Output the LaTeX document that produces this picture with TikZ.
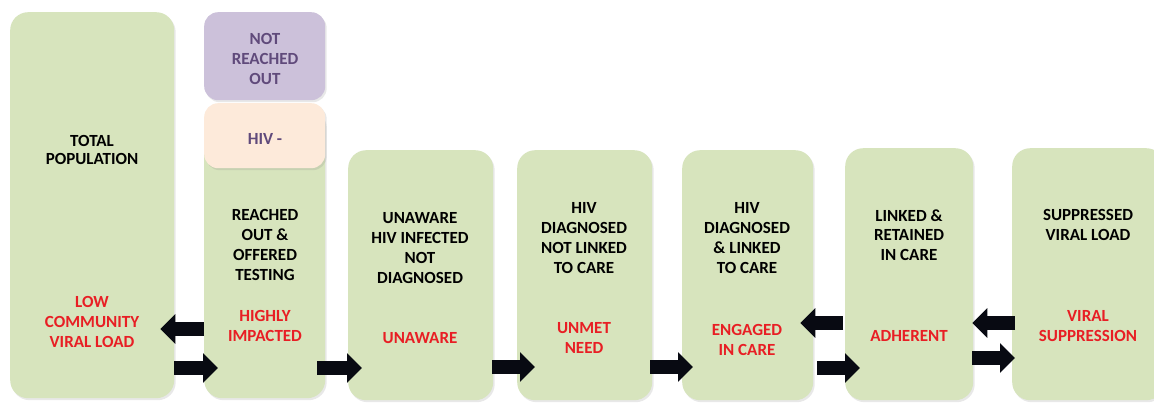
\documentclass[tikz,border=0pt]{standalone}
\usepackage{fontspec}
\setmainfont{Carlito}
\usetikzlibrary{calc,shadows,arrows.meta}
\definecolor{boxgreen}{RGB}{215,228,189}
\definecolor{boxpurple}{RGB}{204,193,218}
\definecolor{boxpeach}{RGB}{253,234,218}
\definecolor{txtpurple}{RGB}{96,74,123}
\definecolor{txtred}{RGB}{232,30,36}
\definecolor{arrowblack}{RGB}{8,10,18}
\begin{document}
\begin{tikzpicture}[x=1pt,y=-1pt,
  stage/.style={draw=none, fill=boxgreen, rounded corners=18pt, inner sep=0, anchor=north west,
    drop shadow={opacity=0.18, shadow xshift=1.5pt, shadow yshift=-2pt}},
  lab/.style={align=center, font=\bfseries\fontsize{17}{19.8}\selectfont, text=black, inner sep=0},
  redlab/.style={lab, text=txtred},
  purplab/.style={lab, text=txtpurple},
  fwd/.style={line width=14pt, arrowblack, -{Triangle[length=15pt,width=29pt]}}
]
\useasboundingbox (0,0) rectangle (1154,402);
\fill[white] (0,0) rectangle (1154,402);

% boxes
\node[stage, minimum width=164pt, minimum height=386pt] (b1) at (10,12) {};
\node[stage, minimum width=121pt, minimum height=290pt] (b2) at (204,108) {};
\node[stage, fill=boxpurple, rounded corners=14pt, minimum width=121pt, minimum height=88pt] (p) at (204,12) {};
\node[stage, fill=boxpeach, rounded corners=14pt, minimum width=121pt, minimum height=65pt] (h) at (204,103) {};
\node[stage, minimum width=145pt, minimum height=250pt] (b3) at (348,150) {};
\node[stage, minimum width=135pt, minimum height=250pt] (b4) at (517,150) {};
\node[stage, minimum width=131pt, minimum height=250pt] (b5) at (682,150) {};
\node[stage, minimum width=128pt, minimum height=252pt] (b6) at (845,148) {};
\node[stage, minimum width=152pt, minimum height=252pt] (b7) at (1012,148) {};

% texts
\node[lab, font=\bfseries\fontsize{17}{18.5}\selectfont] (t1) at (92,150) {TOTAL\\POPULATION};
\node[redlab] (r1) at (92,322) {LOW\\COMMUNITY\\VIRAL LOAD};
\node[purplab] (tp) at (265,59) {NOT\\REACHED\\OUT};
\node[purplab] (th) at (265,139) {HIV -};
\node[lab] (t2) at (265,245) {REACHED\\OUT \&\\OFFERED\\TESTING};
\node[redlab] (r2) at (265,326) {HIGHLY\\IMPACTED};
\node[lab] (t3) at (420,248) {UNAWARE\\HIV INFECTED\\NOT\\DIAGNOSED};
\node[redlab] (r3) at (420,338) {UNAWARE};
\node[lab] (t4) at (584,238) {HIV\\DIAGNOSED\\NOT LINKED\\TO CARE};
\node[redlab] (r4) at (584,338) {UNMET\\NEED};
\node[lab] (t5) at (747,238) {HIV\\DIAGNOSED\\\& LINKED\\TO CARE};
\node[redlab] (r5) at (747,340) {ENGAGED\\IN CARE};
\node[lab] (t6) at (909,235) {LINKED \&\\RETAINED\\IN CARE};
\node[redlab] (r6) at (909,336) {ADHERENT};
\node[lab] (t7) at (1088,225) {SUPPRESSED\\VIRAL LOAD};
\node[redlab] (r7) at (1088,326) {VIRAL\\SUPPRESSION};

% arrows
\draw[fwd] (b2.west |- 0,329) -- ($(b1.east |- 0,329)+(-14,0)$);
\draw[fwd] (b1.east |- 0,368) -- ($(b2.west |- 0,368)+(14,0)$);
\draw[fwd] ($(b2.east |- 0,368)+(-8,0)$) -- ($(b3.west |- 0,368)+(14,0)$);
\draw[fwd] ($(b3.east |- 0,367)+(-1,0)$) -- ($(b4.west |- 0,367)+(18,0)$);
\draw[fwd] ($(b4.east |- 0,367)+(-2,0)$) -- ($(b5.west |- 0,367)+(11,0)$);
\draw[fwd] ($(b5.east |- 0,368)+(4,0)$) -- ($(b6.west |- 0,368)+(15,0)$);
\draw[fwd] ($(b6.west |- 0,323)+(-2,0)$) -- ($(b5.east |- 0,323)+(-13,0)$);
\draw[fwd] ($(b7.west |- 0,323)+(3,0)$) -- ($(b6.east |- 0,323)+(-1,0)$);
\draw[fwd] ($(b6.east |- 0,358)+(-1,0)$) -- ($(b7.west |- 0,358)+(3,0)$);
\end{tikzpicture}
\end{document}
